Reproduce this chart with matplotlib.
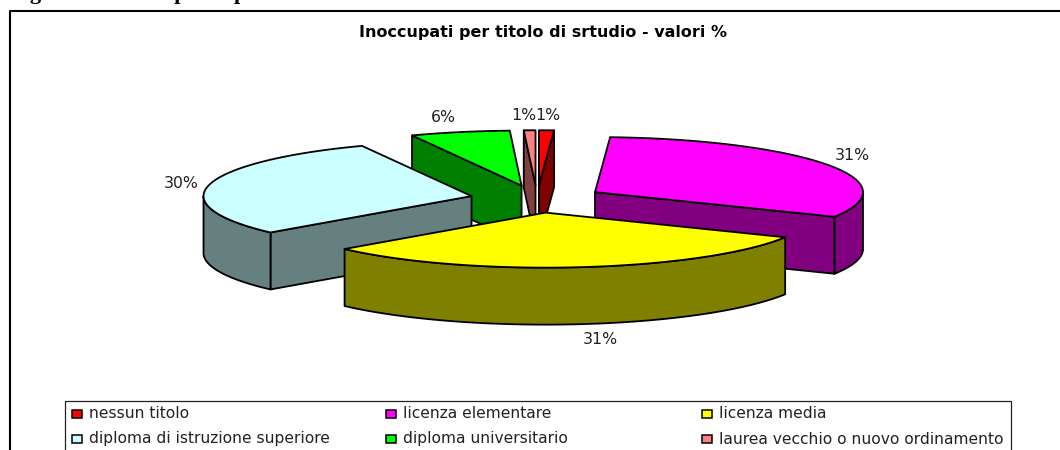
import matplotlib
matplotlib.use('Agg')
import matplotlib.pyplot as plt
import numpy as np
from matplotlib.patches import Polygon, Rectangle

# estimated shares, clockwise from 12 o'clock (labels show them rounded)
categories = ['nessun titolo', 'licenza elementare', 'licenza media',
              'diploma di istruzione superiore', 'diploma universitario',
              'laurea vecchio o nuovo ordinamento']
values = [0.9, 31.5, 31.1, 29.8, 6.0, 0.7]
labels = ['1%', '31%', '31%', '30%', '6%', '1%']
top_colors = ['#FF0000', '#FF00FF', '#FFFF00', '#CCFFFF', '#00FF00', '#FF8080']
side_colors = ['#800000', '#800080', '#808000', '#668080', '#008000', '#804040']
title = 'Inoccupati per titolo di srtudio - valori %'

# pixel position of each label, the pie has no usable auto layout for these
label_xy = [(548, 115), (852, 155), (600, 339), (181, 183), (443, 117), (524, 115)]

CX, CY = 537, 199       # pie centre
RX, RY = 268, 55        # ellipse radii
DEPTH = 57
EXPLODE = 0.25

plt.rcParams['font.family'] = ['DejaVu Sans']

fig = plt.figure(figsize=(10.6, 4.5), dpi=100)
ax = fig.add_axes([0, 0, 1, 1])
ax.set_xlim(0, 1060)
ax.set_ylim(450, 0)
ax.axis('off')


def rim(theta, ox, oy):
    return ox + RX * np.sin(theta), oy - RY * np.cos(theta)


def extrude(xs, ys):
    xs, ys = np.asarray(xs), np.asarray(ys)
    return np.column_stack([np.r_[xs, xs[::-1]], np.r_[ys, ys[::-1] + DEPTH]])


def draw_slice(start, end, top, side):
    mid = (start + end) / 2
    ox = CX + EXPLODE * RX * np.sin(mid)
    oy = CY - EXPLODE * RY * np.cos(mid)
    ring = np.linspace(start, end, 80)
    rx, ry = rim(ring, ox, oy)

    faces = []
    # radial faces, only the ones turned to the viewer
    if np.sin(start) < -1e-6:
        faces.append(extrude(*zip((ox, oy), rim(start, ox, oy))))
    if np.sin(end) > 1e-6:
        faces.append(extrude(*zip((ox, oy), rim(end, ox, oy))))
    # outer wall, front half of the ellipse
    lo, hi = max(start, np.pi / 2), min(end, 3 * np.pi / 2)
    if hi > lo:
        wx, wy = rim(np.linspace(lo, hi, 80), ox, oy)
        faces.append(extrude(wx, wy))
    for f in faces:
        ax.add_patch(Polygon(f, closed=True, fc=side, ec='black', lw=1.3, joinstyle='round'))
    ax.add_patch(Polygon(np.column_stack([np.r_[ox, rx], np.r_[oy, ry]]), closed=True,
                         fc=top, ec='black', lw=1.3, joinstyle='round'))


edges = np.r_[0, np.cumsum(values)] / np.sum(values) * 2 * np.pi
# back to front
for i in [4, 5, 0, 1, 3, 2]:
    draw_slice(edges[i], edges[i + 1], top_colors[i], side_colors[i])

for (x, y), lab in zip(label_xy, labels):
    ax.text(x, y, lab, ha='center', va='center', fontsize=11.3, color='#222222')

ax.text(543, 33, title, ha='center', va='center', fontsize=11.5, fontweight='bold')

# chart frame, cut by the image on the right and bottom
ax.plot([9.5, 9.5, 1060], [450, 11, 11], color='black', lw=1.5, clip_on=False)

# heading of the page above the chart, only its descenders survive the crop
ax.text(10, -0.5, 'Figura 8 - Inoccupati    per titolo', ha='left', va='baseline', fontsize=16,
        fontweight='bold', family=['Liberation Serif'], color='black', clip_on=True)

# legend box
ax.add_patch(Rectangle((65, 401), 946, 60, fc='white', ec='#222222', lw=0.9))
col_x = [72, 386, 702]
row_y = [413.5, 439]
for i, name in enumerate(categories):
    x, y = col_x[i % 3], row_y[i // 3]
    ax.add_patch(Rectangle((x, y - 4), 10, 8, fc=top_colors[i], ec='black', lw=1.1))
    ax.text(x + 17, y, name, ha='left', va='center', fontsize=11.2, color='#222222')

fig.savefig('out.png', dpi=100)
plt.close(fig)
